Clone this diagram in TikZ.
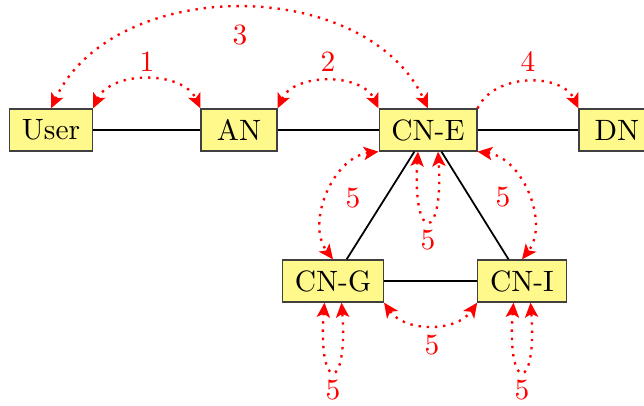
\documentclass[tikz,border=0pt]{standalone}
\usetikzlibrary{arrows.meta,calc}
\begin{document}
\begin{tikzpicture}[x=0.34pt,y=0.34pt,
  box/.style={draw=black!75, fill=yellow!45, inner xsep=4.2pt, inner ysep=0pt, minimum height=14.3pt, minimum width=25.8pt},
  link/.style={semithick, black},
  sig/.style={red, thick, dotted},
  both/.style={{Stealth[length=5pt,width=4.5pt,inset=1.2pt]}-{Stealth[length=5pt,width=4.5pt,inset=1.2pt]}},
  one/.style={-{Stealth[length=5pt,width=4.5pt,inset=1.2pt]}},
  lab/.style={text=red, inner sep=0pt}]
\useasboundingbox (0,0) rectangle (644,-406);
% nodes
\node[box] (user) at (51,-130) {User};
\node[box] (an) at (239,-130) {AN};
\node[box] (cne) at (428,-130) {CN-E};
\node[box] (dn) at (617,-130) {DN};
\node[box] (cng) at (333,-281) {CN-G};
\node[box] (cni) at (522,-281) {CN-I};
% links
\draw[link] (user) -- (an);
\draw[link] (an) -- (cne);
\draw[link] (cne) -- (dn);
\draw[link] (cne) -- (cng);
\draw[link] (cne) -- (cni);
\draw[link] (cng) -- (cni);
% signalling
\draw[sig,both] (user.north east) to[bend left=65] (an.north west);
\draw[sig,both] (an.north east) to[bend left=65] (cne.north west);
\draw[sig,both] (user.north) to[out=65,in=115] (cne.north);
\draw[sig,one] (cne.north east) to[bend left=65] (dn.north west);
\draw[sig,both] (cne.south west) to[bend right=60] (cng.north);
\draw[sig,both] (cne.south east) to[bend left=60] (cni.north);
\draw[sig,both] (cng.south east) to[bend right=55] (cni.south west);
\draw[sig,both] ($(cne.south)+(-10,0)$) .. controls +(-6,-92) and +(6,-92) .. ($(cne.south)+(10,0)$);
\draw[sig,both] ($(cng.south)+(-8.5,0)$) .. controls +(-7,-91) and +(7,-91) .. ($(cng.south)+(8.5,0)$);
\draw[sig,both] ($(cni.south)+(-8.5,0)$) .. controls +(-7,-91) and +(7,-91) .. ($(cni.south)+(8.5,0)$);
% labels
\node[lab] (l1) at (147,-62) {1};
\node[lab] (l2) at (328,-62) {2};
\node[lab] (l3) at (240,-35) {3};
\node[lab] (l4) at (528,-62) {4};
\node[lab] (l5a) at (353,-198) {5};
\node[lab] (l5b) at (503,-197) {5};
\node[lab] (l5c) at (428,-240) {5};
\node[lab] (l5d) at (432,-345) {5};
\node[lab] (l5e) at (333,-390) {5};
\node[lab] (l5f) at (522,-390) {5};
\end{tikzpicture}
\end{document}
